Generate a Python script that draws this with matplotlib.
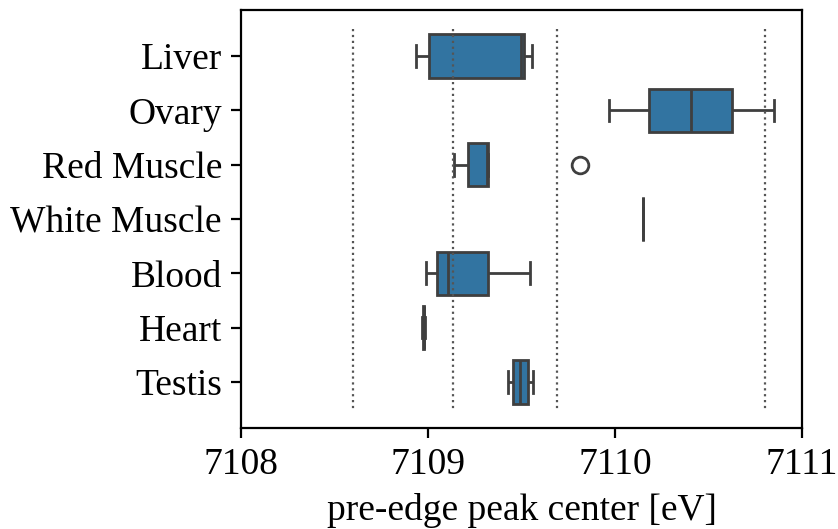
import matplotlib
matplotlib.use('Agg')
import matplotlib.pyplot as plt
import pandas as pd
import seaborn as sns

plt.rcParams['font.family'] = ['Liberation Serif', 'DejaVu Serif']

tissues = ['Liver', 'Ovary', 'Red Muscle', 'White Muscle', 'Blood', 'Heart', 'Testis']

# pre-edge peak centres per tissue [eV]
liver = [7108.933, 7109.005, 7109.496, 7109.512, 7109.553]
ovary = [7109.968, 7110.180, 7110.405, 7110.628, 7110.849]
red_muscle = [7109.136, 7109.212, 7109.314, 7109.319, 7109.811]
white_muscle = [7110.150, 7110.150, 7110.150]
blood = [7108.989, 7109.047, 7109.106, 7109.319, 7109.542]
heart = [7108.968, 7108.972, 7108.976, 7108.980, 7108.984]
testis = [7109.425, 7109.455, 7109.492, 7109.532, 7109.561]

# reference energies
ref_lines = [7108.60, 7109.13, 7109.69, 7110.80]

values = [liver, ovary, red_muscle, white_muscle, blood, heart, testis]
rows = []
for name, vals in zip(tissues, values):
    for v in vals:
        rows.append({'tissue': name, 'center': v})
df = pd.DataFrame(rows)

fig, ax = plt.subplots(figsize=(4.19, 2.645), dpi=200)
sns.boxplot(data=df, x='center', y='tissue', order=tissues, color='#1f77b4', ax=ax)
ax.vlines(ref_lines, -0.5, len(tissues) - 0.5, colors='#555555', linestyles=':', linewidth=0.8)
ax.set_ylim(len(tissues) - 0.5 + 0.35, -0.5 - 0.35)
ax.set_xlim(7108, 7111)
ax.set_xticks([7108, 7109, 7110, 7111])
ax.set_xlabel('pre-edge peak center [eV]', fontsize=13.5)
ax.set_ylabel('')
ax.tick_params(labelsize=13.5)
fig.subplots_adjust(left=0.288, right=0.957, top=0.981, bottom=0.191)
fig.savefig('out.png')
